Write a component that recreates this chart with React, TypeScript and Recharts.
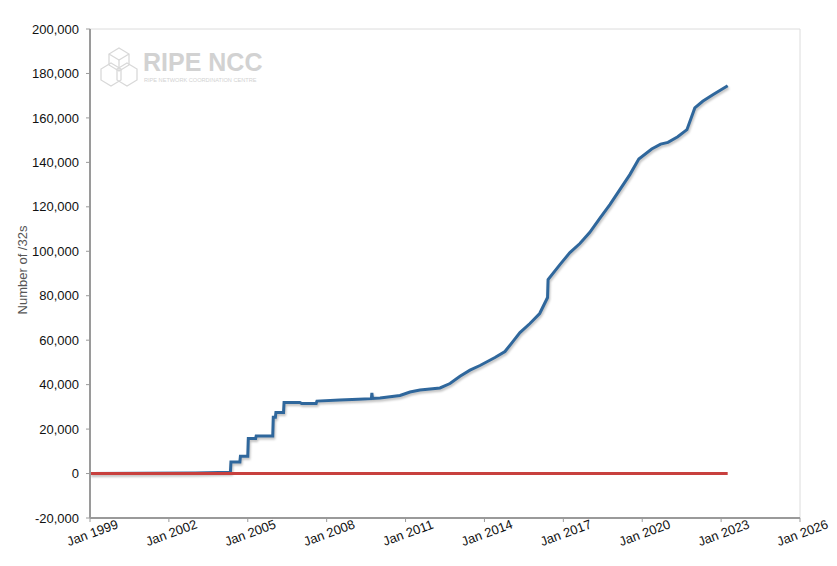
import React from 'react';
import { LineChart, Line, XAxis, YAxis, CartesianGrid } from 'recharts';

const xTicks = [1999, 2002, 2005, 2008, 2011, 2014, 2017, 2020, 2023, 2026];
const yTicks = [-20000, 0, 20000, 40000, 60000, 80000, 100000, 120000, 140000, 160000, 180000, 200000];

const blueYears = [
  1999.0, 2001.0, 2003.0, 2004.34, 2004.36, 2004.7, 2004.72, 2005.0, 2005.02, 2005.3, 2005.32,
  2005.95, 2005.97, 2006.05, 2006.07, 2006.36, 2006.38, 2006.98, 2007.05, 2007.6, 2007.63,
  2008.5, 2009.2, 2009.7, 2009.72, 2009.74, 2010.03, 2010.79, 2011.17, 2011.55, 2012.31,
  2012.69, 2013.07, 2013.45, 2013.83, 2014.4, 2014.78, 2015.05, 2015.35, 2015.73, 2016.1,
  2016.4, 2016.42, 2016.87, 2017.25, 2017.63, 2018.0, 2018.4, 2018.77, 2019.15, 2019.53,
  2019.87, 2020.36, 2020.7, 2020.98, 2021.35, 2021.7, 2022.0, 2022.3, 2022.7, 2023.25,
];
const blueValues = [
  0, 100, 300, 600, 5200, 5200, 7800, 7800, 15800, 15800, 16900,
  16900, 25300, 25300, 27500, 27500, 32000, 32000, 31500, 31500, 32600,
  33100, 33400, 33700, 36300, 33800, 34000, 35100, 36700, 37600, 38500,
  40500, 43800, 46500, 48600, 52200, 54900, 58900, 63400, 67500, 72000,
  79200, 87300, 94000, 99400, 103500, 108400, 115000, 121000, 127700, 134500,
  141500, 146000, 148200, 149000, 151500, 154700, 164500, 167500, 170500, 174500,
];

const redYears = [1999.0, 2023.25];
const redValues = [0, 0];

const blueData = blueYears.map((t, i) => ({ t, v: blueValues[i] }));
const redData = redYears.map((t, i) => ({ t, v: redValues[i] }));

const FONT = '"Liberation Sans", Arial, Helvetica, sans-serif';

const fmtY = (v: number) => v.toLocaleString('en-US');

const XTick = (props: any) => {
  const { x, y, payload } = props;
  const cx = x + 4;
  const cy = y + 13;
  return (
    <text
      x={cx}
      y={cy}
      textAnchor="middle"
      fontFamily={FONT}
      fontSize={13}
      fill="#111"
      transform={`rotate(-20, ${cx}, ${cy})`}
    >
      {`Jan ${payload.value}`}
    </text>
  );
};

const YLabel = () => {
  const cx = 27;
  const cy = 270;
  return (
    <text
      x={cx}
      y={cy}
      textAnchor="middle"
      fontFamily={FONT}
      fontSize={13}
      fill="#555"
      transform={`rotate(-90, ${cx}, ${cy})`}
    >
      Number of /32s
    </text>
  );
};

export default function App() {
  return (
    <div style={{ position: 'absolute', left: 0, top: 0, width: 837, height: 566, background: '#fff' }}>
      <LineChart
        width={837}
        height={566}
        margin={{ top: 29, right: 37, bottom: 0, left: 0 }}
      >
        <CartesianGrid stroke="#dcdcdc" strokeWidth={1} vertical horizontal />
        <XAxis
          xAxisId="b"
          dataKey="t"
          type="number"
          domain={[1999, 2026]}
          ticks={xTicks}
          interval={0}
          axisLine={{ stroke: '#9a9a9a', strokeWidth: 2 }}
          tickLine={{ stroke: '#9a9a9a' }}
          tickSize={4}
          tick={<XTick />}
          height={48}
          allowDataOverflow
        />
        <XAxis
          xAxisId="top"
          orientation="top"
          dataKey="t"
          type="number"
          domain={[1999, 2026]}
          ticks={xTicks}
          axisLine={{ stroke: '#9a9a9a', strokeWidth: 2 }}
          tick={false}
          tickLine={false}
          height={0}
        />
        <YAxis
          yAxisId="l"
          type="number"
          domain={[-20000, 200000]}
          ticks={yTicks}
          interval={0}
          width={90}
          axisLine={{ stroke: '#9a9a9a', strokeWidth: 2 }}
          tickLine={{ stroke: '#9a9a9a' }}
          tickSize={4}
          tickMargin={7}
          tickFormatter={fmtY}
          tick={{ fontFamily: FONT, fontSize: 13, fill: '#111' }}
          label={<YLabel />}
        />
        <YAxis
          yAxisId="r"
          orientation="right"
          type="number"
          domain={[-20000, 200000]}
          ticks={yTicks}
          width={0}
          axisLine={{ stroke: '#a8a8a8', strokeWidth: 2 }}
          tick={false}
          tickLine={false}
        />
        <Line
          xAxisId="b"
          yAxisId="l"
          data={blueData}
          dataKey="v"
          type="linear"
          stroke="#2f679c"
          strokeWidth={3}
          dot={false}
          activeDot={false}
          isAnimationActive={false}
          style={{ filter: 'drop-shadow(1px 2px 1px rgba(0,0,0,0.25))' }}
        />
        <Line
          xAxisId="b"
          yAxisId="l"
          data={redData}
          dataKey="v"
          type="linear"
          stroke="#c8403e"
          strokeWidth={3}
          dot={false}
          activeDot={false}
          isAnimationActive={false}
        />
      </LineChart>
      <div style={{ position: 'absolute', left: 98, top: 46, pointerEvents: 'none', opacity: 0.9 }}>
        <svg width={42} height={44} viewBox="0 0 42 44">
          <g fill="none" stroke="#d4d4d4" strokeWidth={1.3}>
            <polygon points="21,2 31,8 31,19 21,25 11,19 11,8" />
            <polygon points="13,17 23,23 23,34 13,40 3,34 3,23" />
            <polygon points="29,17 39,23 39,34 29,40 19,34 19,23" />
            <polyline points="11,8 21,14 31,8" />
            <line x1="21" y1="14" x2="21" y2="25" />
          </g>
        </svg>
      </div>
      <div
        style={{
          position: 'absolute',
          left: 143,
          top: 50,
          fontFamily: FONT,
          fontWeight: 'bold',
          fontSize: 25,
          color: '#d2d2d2',
          lineHeight: '24px',
          pointerEvents: 'none',
          whiteSpace: 'nowrap',
        }}
      >
        RIPE NCC
      </div>
      <div
        style={{
          position: 'absolute',
          left: 144,
          top: 77,
          fontFamily: FONT,
          fontSize: 5.6,
          color: '#d2d2d2',
          lineHeight: '6px',
          pointerEvents: 'none',
          whiteSpace: 'nowrap',
        }}
      >
        RIPE NETWORK COORDINATION CENTRE
      </div>
    </div>
  );
}
